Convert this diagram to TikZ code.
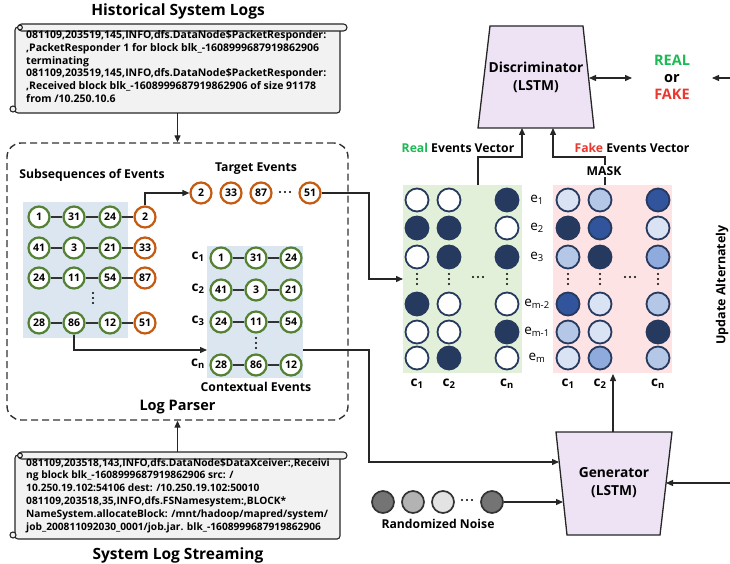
\documentclass[tikz,border=0pt]{standalone}
\usepackage{fontspec}
\setmainfont{Open Sans}
\usetikzlibrary{arrows.meta,calc}
\definecolor{grn}{HTML}{548235}
\definecolor{org}{HTML}{C55A11}
\definecolor{navy}{HTML}{26395F}
\definecolor{blu}{HTML}{31549C}
\definecolor{lbA}{HTML}{DAE3F3}
\definecolor{lbB}{HTML}{B4C7E7}
\definecolor{lbC}{HTML}{8FAADC}
\definecolor{shade}{HTML}{DCE6F0}
\definecolor{greenbg}{HTML}{E2F0D9}
\definecolor{pinkbg}{HTML}{FDE3E3}
\definecolor{lav}{HTML}{EEE3F5}
\definecolor{scrollbg}{HTML}{F2F2F2}
\definecolor{realc}{HTML}{1DB954}
\definecolor{fakec}{HTML}{E8382F}
\definecolor{gA}{HTML}{747474}
\definecolor{gB}{HTML}{B3B3B3}
\definecolor{gC}{HTML}{E3E3E3}
\newcommand\mydotsv[2]{\foreach \q in {-5,0,5}{\fill (#1,#2+\q) circle (1.2pt);}}
\newcommand\mydotsh[2]{\foreach \q in {-5,0,5}{\fill (#1+\q,#2) circle (1.2pt);}}
\newcommand\myscroll[2]{%
  \draw[scl,rounded corners=3pt] (15,#1+3) rectangle (340,#2);
  \draw[scl,rounded corners=3.5pt] (18,#1) rectangle (347,#1+7);
  \draw[scl] (20,#1+3.5) circle (2.4pt);
  \draw[scl] (13,#2-4) circle (3pt);}
\begin{document}
\begin{tikzpicture}[x=1pt,y=-1pt,
  every node/.style={inner sep=0pt},
  ev/.style={circle,draw=grn,line width=2.2pt,fill=white,minimum size=21pt,font=\bfseries\fontsize{10.5}{11}\selectfont},
  tg/.style={ev,draw=org},
  lnk/.style={line width=2.8pt,draw=black!80},
  mc/.style={circle,draw=navy,line width=1.8pt,minimum size=23pt},
  nz/.style={circle,draw=black!80,line width=1.7pt,minimum size=22pt},
  conn/.style={line width=1.3pt,draw=black!85,-{Triangle[length=7pt,width=6pt]}},
  scl/.style={draw=black!85,line width=1.1pt,fill=scrollbg},
  logtxt/.style={align=left,font=\bfseries\fontsize{10.5}{12.9}\selectfont},
  ttl/.style={font=\bfseries\fontsize{15.5}{16}\selectfont},
  lbl/.style={font=\bfseries\fontsize{12.2}{13}\selectfont},
  clab/.style={font=\bfseries\fontsize{13.5}{13.5}\selectfont},
  elab/.style={font=\fontsize{13.5}{13.5}\selectfont},
  trap/.style={draw=black!85,line width=1.3pt,fill=lav},
  boxt/.style={font=\bfseries\fontsize{13.8}{18}\selectfont,align=center}]
\useasboundingbox (0,0) rectangle (730,564);

% ---------- historical logs ----------
\node[ttl] (htitle) at (178,11) {Historical System Logs};
\myscroll{24}{113}
\node[logtxt,anchor=north west] (htext) at (26,30) {081109,203519,145,INFO,dfs.DataNode\$PacketResponder:\\
,PacketResponder 1 for block blk\_-1608999687919862906\\
terminating\\
081109,203519,145,INFO,dfs.DataNode\$PacketResponder:\\
,Received block blk\_-1608999687919862906 of size 91178\\
from /10.250.10.6};
\coordinate (histbot) at (177.5,113);

% ---------- log parser ----------
\node[draw=black!80,dash pattern=on 7pt off 4pt,line width=1.4pt,rounded corners=14pt,minimum width=341pt,minimum height=277pt] (parser) at (177.5,281.5) {};
\node[font=\bfseries\fontsize{14.5}{14.5}\selectfont] (lp) at (177.5,407) {Log Parser};
\node[lbl] (subl) at (92,175) {Subsequences of Events};
\node[lbl] (tgl) at (256,169) {Target Events};
\node[lbl] (ctxl) at (256,387) {Contextual Events};

\node[fill=shade,minimum width=105pt,minimum height=136pt] (subbox) at (75.5,270) {};
\node[fill=shade,minimum width=96pt,minimum height=132pt] (ctxbox) at (255,312) {};

\foreach \y/\a/\b/\c/\d [count=\i] in {217/1/31/24/2, 248/41/3/21/33, 278/24/11/54/87, 323/28/86/12/51}{
  \node[ev] (r\i-a) at (39,\y) {\a};
  \node[ev] (r\i-b) at (74,\y) {\b};
  \node[ev] (r\i-c) at (110,\y) {\c};
  \node[tg] (r\i-d) at (145,\y) {\d};
  \draw[lnk] (r\i-a) -- (r\i-b);
  \draw[lnk] (r\i-b) -- (r\i-c);
  \draw[lnk] (r\i-c) -- (r\i-d);
}
\mydotsv{93}{298}

\node[tg] (t1) at (201,193) {2};
\node[tg] (t2) at (231,193) {33};
\node[tg] (t3) at (261,193) {87};
\node[tg] (t4) at (310,193) {51};
\mydotsh{285}{192}

\foreach \y/\a/\b/\c/\k [count=\i] in {258/1/31/24/1, 290/41/3/21/2, 322/24/11/54/3, 365/28/86/12/n}{
  \node[ev] (c\i-a) at (221,\y) {\a};
  \node[ev] (c\i-b) at (256,\y) {\b};
  \node[ev] (c\i-c) at (291,\y) {\c};
  \draw[lnk] (c\i-a) -- (c\i-b);
  \draw[lnk] (c\i-b) -- (c\i-c);
  \node[clab] (cl\i) at (198,\y-1) {c\textsubscript{\k}};
}
\mydotsv{256}{343}

% ---------- stream logs ----------
\myscroll{452}{539}
\node[logtxt,anchor=north west,font=\bfseries\fontsize{10.2}{12.8}\selectfont] (stext) at (26,458) {081109,203518,143,INFO,dfs.DataNode\$DataXceiver:,Receivi\\
ng block blk\_-1608999687919862906 src: /\\
10.250.19.102:54106 dest: /10.250.19.102:50010\\
081109,203518,35,INFO,dfs.FSNamesystem:,BLOCK*\\
NameSystem.allocateBlock: /mnt/hadoop/mapred/system/\\
job\_200811092030\_0001/job.jar. blk\_-1608999687919862906};
\node[ttl] (stitle) at (178,555) {System Log Streaming};
\coordinate (streamtop) at (177.5,452);

% ---------- matrices ----------
\node[fill=greenbg,minimum width=119pt,minimum height=188pt] (realbox) at (462.5,279) {};
\node[fill=pinkbg,minimum width=119pt,minimum height=188pt] (fakebox) at (612.5,279) {};
\foreach \y/\a/\b/\c [count=\i] in {200/white/white/navy, 228/navy/navy/white, 257/white/navy/navy, 304/navy/white/white, 332/white/white/navy, 358/white/navy/white}{
  \node[mc,fill=\a] (ra\i) at (417,\y) {};
  \node[mc,fill=\b] (rb\i) at (449,\y) {};
  \node[mc,fill=\c] (rc\i) at (507,\y) {};
}
\foreach \y/\a/\b/\c [count=\i] in {200/lbA/lbB/blu, 228/navy/blu/lbA, 257/lbB/navy/lbC, 304/blu/lbA/lbB, 332/lbB/lbA/navy, 358/lbA/lbC/lbB}{
  \node[mc,fill=\a] (fa\i) at (568,\y) {};
  \node[mc,fill=\b] (fb\i) at (600,\y) {};
  \node[mc,fill=\c] (fc\i) at (658,\y) {};
}
\foreach \x in {417,449,507,568,600,658}{\mydotsv{\x}{279}}
\mydotsh{478}{277}
\mydotsh{630}{277}
\foreach \y/\s [count=\i] in {200/1,228/2,257/3,304/m-2,332/m-1,358/m}{
  \node[elab] (e\i) at (537,\y) {e\textsubscript{\s}};
}
\foreach \x/\k [count=\i] in {417/1,449/2,507/n,568/1,600/2,658/n}{
  \node[clab] (col\i) at (\x,384) {c\textsubscript{\k}};
}

% ---------- discriminator ----------
\draw[trap] (490,26) -- (583,26) -- (594,128) -- (478,128) -- cycle;
\node[boxt] (disc) at (536,77) {Discriminator\\(LSTM)};
\coordinate (dR) at (522,128);
\coordinate (dF) at (553,128);
\coordinate (dE) at (589,78);
\node[align=center,font=\bfseries\fontsize{14.5}{17}\selectfont] (rof) at (672,77) {\textcolor{realc}{REAL}\\or\\\textcolor{fakec}{FAKE}};
\coordinate (rofL) at (632,78);
\coordinate (rofR) at (712,78);
\coordinate (edgeA) at (730,78);

% ---------- generator ----------
\draw[trap] (556,432) -- (672,432) -- (660,535) -- (567,535) -- cycle;
\node[boxt] (gen) at (614,483) {Generator\\(LSTM)};
\coordinate (gTop) at (613,432);
\coordinate (gIn1) at (559,462);
\coordinate (gIn2) at (563,502);
\coordinate (gR) at (666,483);
\coordinate (edgeB) at (730,483);

\node[nz,fill=gA] (n1) at (383,502) {};
\node[nz,fill=gB] (n2) at (413,502) {};
\node[nz,fill=gC] (n3) at (443,502) {};
\node[nz,fill=gA] (n4) at (492,502) {};
\mydotsh{467}{500}
\node[lbl] (nzl) at (438,524) {Randomized Noise};

\node[rotate=90,font=\bfseries\fontsize{12.5}{12.5}\selectfont] (upd) at (722,285) {Update Alternately};

% ---------- connectors ----------
\draw[conn] (histbot) -- (parser.north);
\draw[conn] (streamtop) -- (parser.south);
\draw[conn] (r1-d.north) |- (t1.west);
\coordinate (ctxin) at (207,350);
\coordinate (ctxout) at (303,350);
\draw[conn] (r4-b.south) |- (ctxin);
\coordinate (realin) at (403,279);
\draw[conn] (t4.east) -- (369,193) |- (realin);
\draw[conn] (ctxout) -- (369,350) |- (gIn1);
\draw[conn] (n4.east) -- (gIn2);
\draw[conn] (gTop) -- (613,374);
\draw[conn] (edgeB) -- (gR);
\draw[conn] (edgeA) -- (rofR);
\draw[conn,{Triangle[length=7pt,width=6pt]}-{Triangle[length=7pt,width=6pt]}] (dE) -- (rofL);
\draw[conn] (478,185) |- (522,157) -- (dR);
\draw[conn] (605,185) -- (605,157) -| (dF);
\node[lbl,fill=white,inner sep=1pt] (fakel) at (632,148) {\textcolor{fakec}{Fake} Events Vector};
\node[lbl,fill=white,inner sep=1.5pt] (mask) at (604,171) {MASK};
\node[lbl] (reall) at (458,148) {\textcolor{realc}{Real} Events Vector};
\end{tikzpicture}
\end{document}
